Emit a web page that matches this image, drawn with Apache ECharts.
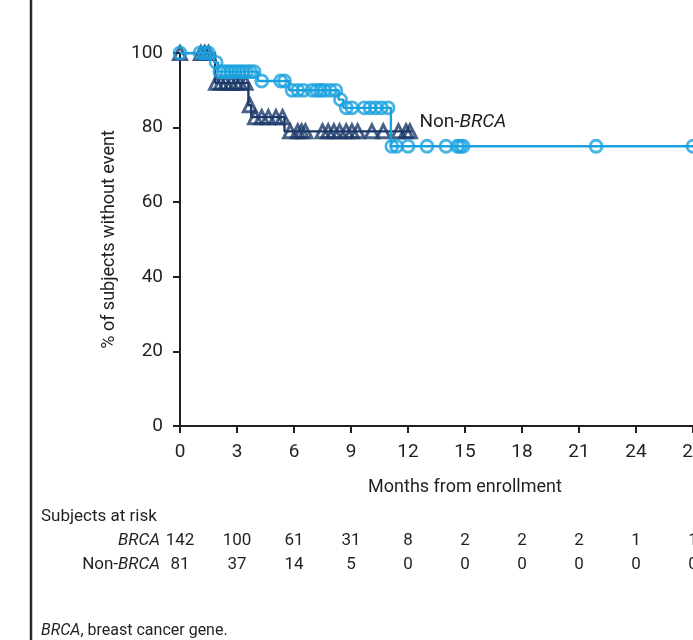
<!DOCTYPE html>
<html>
<head>
<meta charset="utf-8">
<script src="https://cdn.jsdelivr.net/npm/echarts@6/dist/echarts.min.js"></script>
<style>
html,body{margin:0;padding:0;background:#fff;overflow:hidden;width:693px;height:640px;}
#c{width:800px;height:640px;}
</style>
</head>
<body>
<div id="c"></div>
<script>
// ---- data ----
const xTicks = [0, 3, 6, 9, 12, 15, 18, 21, 24, 27, 30];
const yTicks = [0, 20, 40, 60, 80, 100];
// BRCA (light blue) step points [month, survival % after step]
const brcaSteps = [[0,100],[1.8,97.5],[2.0,95],[4.1,92.5],[5.75,90],[8.35,87.5],[8.6,85.3],[11.1,75],[27,75]];
const brcaCensor = [0,1.05,1.3,1.5,1.9,2.1,2.3,2.5,2.7,2.9,3.1,3.3,3.5,3.7,3.9,4.3,5.3,5.5,5.9,6.2,6.5,6.95,7.2,7.4,7.6,7.9,8.2,8.45,8.75,9.05,9.7,10,10.3,10.6,10.95,11.15,11.4,12,13,14,14.6,14.75,14.9,21.9,27];
// Non-BRCA (navy)
const nonSteps = [[0,100],[1.85,92],[3.6,86],[3.75,82.8],[5.5,79],[12.2,79]];
const nonCensor = [0,1.1,1.3,1.5,1.9,2.15,2.4,2.7,2.95,3.15,3.45,3.68,3.95,4.3,4.65,5.05,5.4,5.8,6.2,6.4,6.6,7.5,7.8,8.1,8.4,8.75,9.05,9.35,10.1,10.7,11.5,11.9,12.1];
// Subjects at risk
const riskMonths = [0,3,6,9,12,15,18,21,24,27];
const riskBRCA = [142,100,61,31,8,2,2,2,1,1];
const riskNon = [81,37,14,5,0,0,0,0,0,0];

const LIGHT = '#1aa1de';
const NAVY = '#1c3a69';
const INK = '#231f20';
const FONT = 'Roboto, "Noto Sans", sans-serif';

function survAt(steps, t){
  let s = steps[0][1];
  for (const p of steps){ if (p[0] <= t) s = p[1]; }
  return s;
}

const chart = echarts.init(document.getElementById('c'), null, {renderer:'canvas'});
const axisCommon = {
  axisLine:{show:true, lineStyle:{color:INK, width:2}},
  axisTick:{show:true, inside:false, length:7, lineStyle:{color:INK, width:2}},
  splitLine:{show:false},
  axisLabel:{color:INK, fontSize:19, fontFamily:FONT},
  nameTextStyle:{color:INK, fontSize:18, fontFamily:FONT}
};
chart.setOption({
  animation:false,
  backgroundColor:'#fff',
  grid:{left:180, top:53, width:570, height:373, containLabel:false},
  xAxis:Object.assign({}, axisCommon, {
    type:'value', min:xTicks[0], max:xTicks[xTicks.length-1], interval:3,
    name:'Months from enrollment', nameLocation:'middle', nameGap:52,
    axisLabel:Object.assign({}, axisCommon.axisLabel, {margin:17})
  }),
  yAxis:Object.assign({}, axisCommon, {
    type:'value', min:0, max:100, interval:20,
    name:'% of subjects without event', nameLocation:'middle', nameGap:62,
    axisLabel:Object.assign({}, axisCommon.axisLabel, {margin:17})
  }),
  series:[
    {type:'line', step:'end', data:nonSteps, showSymbol:false, symbol:'none',
     lineStyle:{color:NAVY, width:2.4}, z:2},
    {type:'scatter', data:nonCensor.map(t=>[t, survAt(nonSteps,t)]), symbol:'triangle', symbolSize:13,
     itemStyle:{color:'rgba(255,255,255,0)', borderColor:NAVY, borderWidth:3}, z:3},
    {type:'line', step:'end', data:brcaSteps, showSymbol:false, symbol:'none',
     lineStyle:{color:LIGHT, width:2.4}, z:4},
    {type:'scatter', data:brcaCensor.map(t=>[t, survAt(brcaSteps,t)]), symbol:'circle', symbolSize:12,
     itemStyle:{color:'rgba(255,255,255,0)', borderColor:LIGHT, borderWidth:2.8}, z:5}
  ]
});

const els = [];
// left frame line
els.push({type:'line', shape:{x1:31, y1:0, x2:31, y2:640}, style:{stroke:'#2b2b2b', lineWidth:2.5}});
// Non-BRCA label
const lp = chart.convertToPixel({gridIndex:0}, [12.6, 81.5]);
els.push({type:'text', x:lp[0], y:lp[1], style:{
  text:'{r|Non-}{i|BRCA}', verticalAlign:'middle', align:'left',
  rich:{r:{fontSize:19, fontFamily:FONT, fill:INK}, i:{fontSize:19, fontFamily:FONT, fontStyle:'italic', fill:INK}}
}});
// Subjects at risk
els.push({type:'text', x:41, y:517, style:{text:'Subjects at risk', fontSize:17, fontFamily:FONT, fill:INK, verticalAlign:'middle'}});
els.push({type:'text', x:160, y:541, style:{text:'BRCA', fontSize:17, fontFamily:FONT, fontStyle:'italic', fill:INK, align:'right', verticalAlign:'middle'}});
els.push({type:'text', x:160, y:565, style:{
  text:'{r|Non-}{i|BRCA}', align:'right', verticalAlign:'middle',
  rich:{r:{fontSize:17, fontFamily:FONT, fill:INK}, i:{fontSize:17, fontFamily:FONT, fontStyle:'italic', fill:INK}}
}});
riskMonths.forEach((m,i)=>{
  const px = chart.convertToPixel({gridIndex:0}, [m, 0])[0];
  els.push({type:'text', x:px, y:541, style:{text:String(riskBRCA[i]), fontSize:17, fontFamily:FONT, fill:INK, align:'center', verticalAlign:'middle'}});
  els.push({type:'text', x:px, y:565, style:{text:String(riskNon[i]), fontSize:17, fontFamily:FONT, fill:INK, align:'center', verticalAlign:'middle'}});
});
// footnote
els.push({type:'text', x:41, y:631, style:{
  text:'{i|BRCA}{r|, breast cancer gene.}', verticalAlign:'middle',
  rich:{r:{fontSize:16, fontFamily:FONT, fill:INK}, i:{fontSize:16, fontFamily:FONT, fontStyle:'italic', fill:INK}}
}});
chart.setOption({graphic:{elements:els}});
</script>
</body>
</html>
